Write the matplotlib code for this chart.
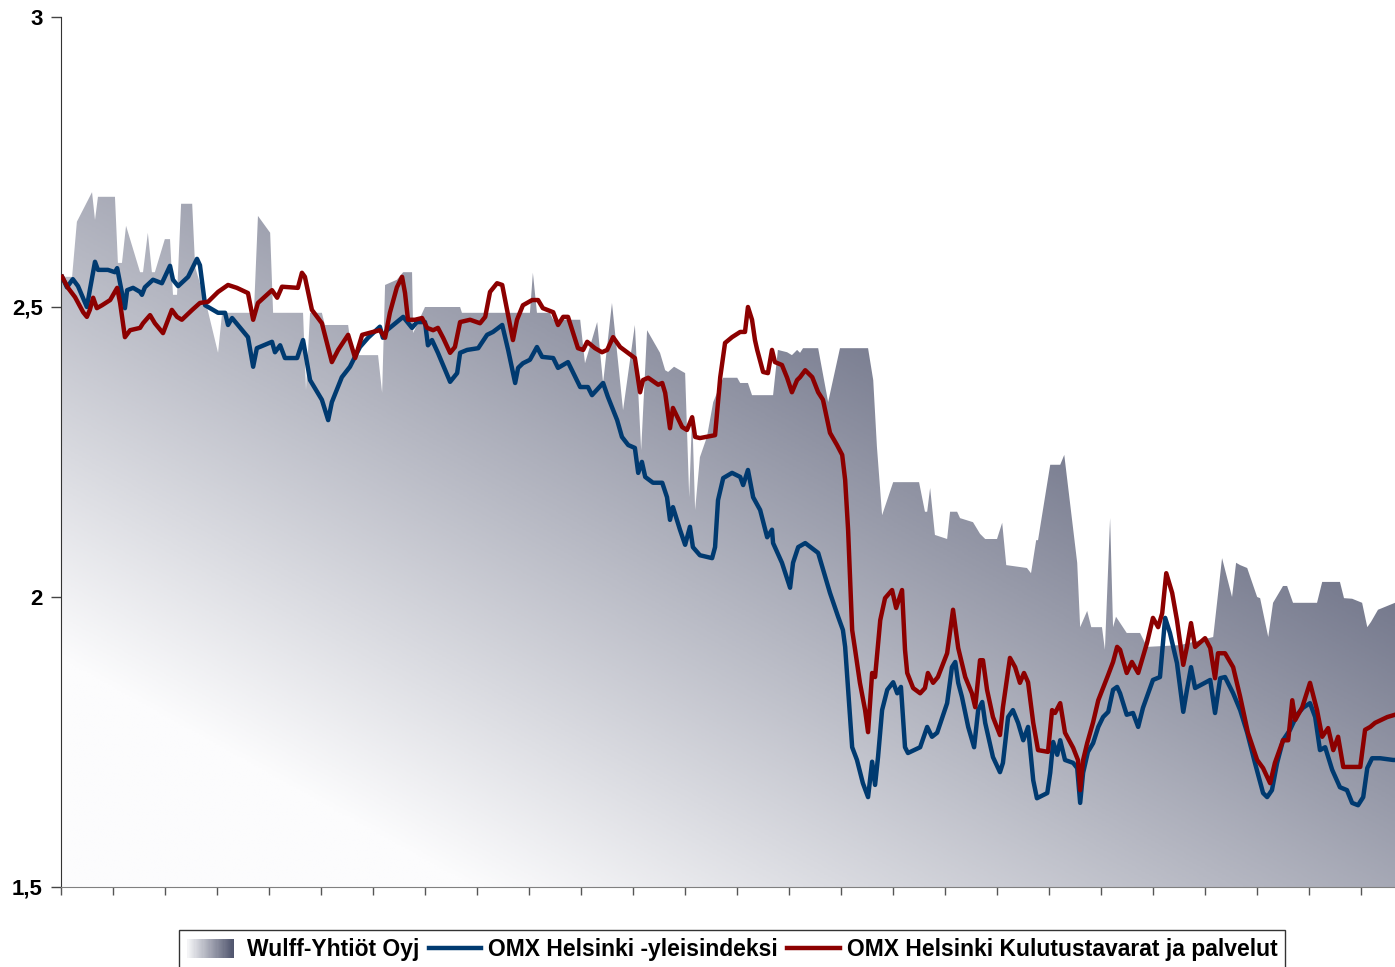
import numpy as np
import matplotlib
matplotlib.use('Agg')
import matplotlib.pyplot as plt
from matplotlib.colors import LinearSegmentedColormap
from matplotlib.legend_handler import HandlerBase
from matplotlib.patches import Rectangle, Patch
from matplotlib.lines import Line2D

plt.rcParams['font.family'] = ['Liberation Sans', 'DejaVu Sans']
plt.rcParams['font.weight'] = 'bold'

series_names = ['Wulff-Yhtiöt Oyj', 'OMX Helsinki -yleisindeksi',
                'OMX Helsinki Kulutustavarat ja palvelut']

# x = calendar day from start of period
wulff_days = [0, 3.0, 4.3, 8.4, 9.2, 10.0, 14.6, 15.4, 16.5, 17.6,
              21.4, 22.2, 23.5, 24.6, 25.4, 28.1, 29.5, 30.3, 31.4, 32.5,
              35.5, 36.3, 39.5, 42.5, 43.6, 52.2, 53.3, 56.6, 57.4, 65.5,
              66.3, 67.4, 70.6, 71.4, 77.7, 78.8, 85.8, 86.9, 87.7, 90.9,
              92.6, 95.0, 95.3, 98.5, 108.0, 108.5, 126.9, 127.7, 128.8, 132.3,
              133.2, 140.5, 141.8, 145.1, 146.7, 149.1, 152.1, 155.3, 157.0, 158.6,
              162.1, 163.5, 164.3, 165.9, 168.9, 170.0, 170.8, 171.6, 172.9, 174.8,
              176.5, 179.2, 183.0, 183.8, 185.9, 187.0, 192.7, 194.0, 196.5, 197.8,
              199.2, 200.0, 200.8, 204.9, 207.6, 210.8, 218.4, 219.8, 220.8, 222.2,
              225.2, 232.2, 233.8, 234.4, 235.2, 236.5, 239.8, 240.6, 242.5, 243.3,
              246.8, 248.7, 250.1, 253.3, 254.7, 255.8, 261.4, 262.5, 263.9, 264.4,
              267.7, 270.4, 271.5, 275.0, 275.8, 277.7, 278.8, 281.7, 282.5, 283.9,
              284.7, 285.5, 288.4, 292.0, 293.9, 302.8, 311.8, 314.2, 316.9, 318.0,
              319.1, 321.0, 323.7, 324.5, 326.7, 328.0, 330.7, 331.8, 333.4, 339.9,
              341.3, 346.1, 347.2, 349.4, 352.1, 353.5, 354.5, 356.4, 361.0]
wulff_vals = [2.552, 2.552, 2.647, 2.698, 2.650, 2.690, 2.690, 2.576, 2.576, 2.640,
              2.560, 2.560, 2.628, 2.560, 2.560, 2.617, 2.617, 2.521, 2.521, 2.678,
              2.678, 2.569, 2.500, 2.421, 2.490, 2.490, 2.657, 2.628, 2.490, 2.490,
              2.357, 2.490, 2.490, 2.469, 2.469, 2.417, 2.417, 2.352, 2.538, 2.547,
              2.560, 2.560, 2.455, 2.500, 2.500, 2.490, 2.490, 2.559, 2.490, 2.490,
              2.478, 2.478, 2.403, 2.474, 2.369, 2.507, 2.322, 2.469, 2.253, 2.460,
              2.421, 2.391, 2.388, 2.397, 2.386, 2.172, 2.317, 2.150, 2.241, 2.276,
              2.336, 2.378, 2.378, 2.369, 2.369, 2.348, 2.348, 2.426, 2.422, 2.417,
              2.426, 2.421, 2.429, 2.429, 2.336, 2.429, 2.429, 2.374, 2.259, 2.141,
              2.198, 2.198, 2.147, 2.147, 2.188, 2.107, 2.100, 2.147, 2.147, 2.136,
              2.129, 2.109, 2.100, 2.100, 2.128, 2.055, 2.050, 2.041, 2.098, 2.098,
              2.228, 2.228, 2.245, 2.059, 1.948, 1.976, 1.948, 1.948, 1.909, 2.136,
              1.948, 1.966, 1.938, 1.938, 1.914, 1.917, 1.931, 2.067, 2.000, 2.059,
              2.055, 2.050, 2.000, 1.998, 1.931, 1.990, 2.019, 2.019, 1.990, 1.990,
              2.026, 2.026, 1.998, 1.997, 1.990, 1.948, 1.957, 1.978, 1.990]

omx_days = [0.3, 1.6, 3.2, 4.6, 7.0, 7.8, 9.2, 10.0, 12.7, 14.6,
            15.2, 16.0, 17.3, 17.9, 19.5, 21.4, 21.9, 22.7, 24.9, 27.3,
            29.5, 30.3, 31.7, 34.4, 36.8, 37.6, 39.0, 42.5, 44.4, 45.2,
            46.3, 50.6, 52.0, 53.0, 57.1, 57.9, 59.3, 60.6, 63.9, 65.5,
            67.4, 70.6, 72.3, 73.3, 76.0, 78.2, 80.9, 83.1, 86.3, 87.1,
            88.2, 92.6, 95.0, 96.3, 98.5, 99.3, 100.4, 102.0, 105.3, 107.2,
            108.0, 109.9, 112.9, 115.3, 116.9, 119.4, 121.0, 122.9, 123.7, 125.0,
            126.9, 128.8, 130.2, 133.2, 134.5, 137.2, 140.5, 142.6, 143.7, 146.7,
            148.0, 150.5, 151.8, 153.5, 155.3, 156.2, 157.2, 158.1, 160.2, 162.7,
            164.0, 164.8, 165.6, 167.5, 168.9, 170.2, 171.0, 172.9, 176.2, 177.0,
            177.8, 179.2, 181.6, 183.8, 184.6, 185.9, 187.3, 189.2, 191.1, 192.4,
            192.7, 195.1, 197.3, 198.1, 199.5, 201.4, 204.9, 208.1, 210.3, 211.6,
            212.2, 213.0, 214.1, 215.4, 217.0, 218.4, 219.5, 220.3, 221.1, 222.2,
            223.6, 225.2, 226.3, 227.3, 228.4, 229.2, 232.5, 234.4, 235.7, 237.1,
            239.8, 241.1, 242.0, 242.8, 243.8, 245.5, 247.1, 248.2, 249.3, 250.1,
            252.2, 254.1, 254.9, 256.3, 257.6, 259.0, 260.4, 261.7, 263.1, 264.1,
            266.9, 267.7, 268.5, 269.6, 270.4, 271.7, 273.9, 275.0, 275.8, 276.6,
            277.9, 279.3, 280.7, 282.0, 283.4, 284.7, 285.8, 286.6, 288.4, 290.1,
            291.5, 292.8, 295.5, 297.4, 298.8, 300.1, 302.0, 303.7, 304.7, 305.8,
            306.9, 311.0, 312.3, 313.7, 315.0, 317.2, 319.1, 321.0, 323.1, 325.3,
            326.4, 327.7, 329.1, 330.7, 332.6, 334.5, 336.1, 338.0, 339.4, 340.7,
            342.1, 344.0, 346.1, 348.0, 349.4, 351.0, 352.4, 353.5, 354.8, 357.0,
            360.5, 361.0]
omx_vals = [2.552, 2.534, 2.548, 2.536, 2.500, 2.529, 2.578, 2.564, 2.564, 2.560,
            2.567, 2.541, 2.498, 2.529, 2.533, 2.526, 2.521, 2.534, 2.547, 2.541,
            2.571, 2.547, 2.536, 2.552, 2.583, 2.572, 2.503, 2.490, 2.490, 2.469,
            2.481, 2.448, 2.397, 2.429, 2.440, 2.422, 2.434, 2.412, 2.412, 2.443,
            2.374, 2.340, 2.305, 2.336, 2.379, 2.397, 2.431, 2.447, 2.466, 2.447,
            2.460, 2.483, 2.464, 2.474, 2.474, 2.434, 2.443, 2.421, 2.371, 2.386,
            2.421, 2.426, 2.429, 2.452, 2.457, 2.469, 2.426, 2.369, 2.395, 2.403,
            2.409, 2.431, 2.414, 2.412, 2.395, 2.405, 2.362, 2.362, 2.348, 2.369,
            2.345, 2.305, 2.276, 2.262, 2.257, 2.214, 2.233, 2.207, 2.197, 2.197,
            2.172, 2.133, 2.155, 2.116, 2.090, 2.121, 2.086, 2.072, 2.067, 2.086,
            2.167, 2.205, 2.214, 2.207, 2.193, 2.219, 2.172, 2.150, 2.103, 2.116,
            2.093, 2.059, 2.016, 2.059, 2.086, 2.093, 2.076, 2.007, 1.966, 1.943,
            1.914, 1.840, 1.741, 1.719, 1.679, 1.655, 1.716, 1.676, 1.724, 1.805,
            1.840, 1.853, 1.834, 1.845, 1.741, 1.731, 1.741, 1.776, 1.759, 1.766,
            1.817, 1.879, 1.888, 1.852, 1.828, 1.776, 1.741, 1.805, 1.819, 1.783,
            1.724, 1.698, 1.714, 1.793, 1.805, 1.783, 1.753, 1.776, 1.684, 1.653,
            1.662, 1.697, 1.750, 1.728, 1.753, 1.719, 1.714, 1.705, 1.645, 1.697,
            1.733, 1.748, 1.776, 1.793, 1.802, 1.840, 1.845, 1.834, 1.797, 1.800,
            1.776, 1.809, 1.857, 1.862, 1.964, 1.938, 1.886, 1.802, 1.840, 1.879,
            1.843, 1.857, 1.800, 1.860, 1.862, 1.834, 1.805, 1.766, 1.714, 1.662,
            1.655, 1.667, 1.714, 1.753, 1.771, 1.797, 1.809, 1.817, 1.793, 1.736,
            1.741, 1.702, 1.672, 1.667, 1.645, 1.641, 1.655, 1.705, 1.722, 1.722,
            1.719, 1.719]

kulu_days = [0.3, 1.9, 3.8, 6.0, 7.0, 7.8, 8.7, 9.7, 11.1, 13.3,
             15.2, 16.0, 17.3, 18.7, 21.4, 22.2, 24.1, 25.4, 27.6, 30.0,
             31.4, 32.7, 35.5, 37.6, 39.8, 42.5, 45.2, 47.6, 50.6, 52.0,
             53.3, 57.1, 58.5, 59.8, 64.1, 65.2, 66.0, 67.9, 70.6, 73.3,
             75.0, 77.7, 79.6, 81.5, 84.4, 86.3, 87.7, 89.0, 90.9, 92.3,
             93.1, 93.9, 95.8, 97.7, 99.1, 100.7, 102.0, 103.4, 105.3, 106.6,
             108.0, 110.7, 113.4, 114.8, 116.1, 118.0, 119.4, 120.7, 122.3, 123.4,
             125.0, 127.5, 129.1, 130.4, 133.2, 134.5, 135.9, 137.2, 139.9, 141.3,
             142.4, 144.5, 146.4, 147.8, 149.4, 151.3, 153.2, 155.3, 156.7, 157.5,
             158.9, 161.6, 162.7, 163.5, 164.8, 165.6, 168.1, 169.4, 170.8, 171.6,
             172.9, 177.0, 178.4, 179.7, 181.6, 183.8, 185.1, 185.9, 187.0, 187.8,
             188.4, 190.0, 191.3, 192.4, 193.2, 195.1, 196.5, 197.8, 199.2, 200.0,
             201.4, 203.3, 204.9, 206.2, 208.1, 210.0, 211.4, 212.2, 213.0, 214.1,
             214.9, 216.2, 217.6, 218.4, 219.5, 220.3, 221.7, 223.0, 224.9, 226.0,
             227.6, 228.4, 229.0, 230.6, 232.5, 233.8, 234.6, 236.0, 237.3, 239.8,
             241.4, 242.8, 244.7, 246.5, 247.4, 248.7, 249.5, 250.6, 252.2, 254.1,
             254.9, 256.8, 258.2, 259.5, 260.6, 261.7, 263.1, 264.4, 267.1, 268.2,
             269.0, 270.4, 271.7, 273.9, 275.2, 275.8, 276.6, 277.7, 279.3, 280.7,
             282.0, 283.4, 284.7, 285.8, 286.6, 288.4, 289.8, 291.5, 293.9, 295.5,
             296.9, 298.0, 299.1, 300.7, 302.0, 303.7, 304.7, 305.8, 306.9, 309.6,
             311.0, 312.3, 313.1, 315.0, 317.2, 319.1, 321.2, 323.7, 325.3, 327.2,
             328.5, 330.7, 332.1, 333.2, 334.0, 335.9, 338.0, 339.9, 341.3, 342.9,
             344.3, 345.6, 347.0, 351.6, 352.9, 354.3, 355.6, 358.9, 361.0]
kulu_vals = [2.552, 2.533, 2.517, 2.491, 2.483, 2.495, 2.516, 2.498, 2.503, 2.512,
             2.533, 2.507, 2.448, 2.460, 2.464, 2.472, 2.486, 2.472, 2.455, 2.495,
             2.483, 2.478, 2.495, 2.507, 2.509, 2.526, 2.538, 2.533, 2.524, 2.478,
             2.507, 2.529, 2.516, 2.535, 2.533, 2.559, 2.552, 2.495, 2.472, 2.405,
             2.426, 2.452, 2.412, 2.452, 2.457, 2.460, 2.447, 2.490, 2.534, 2.552,
             2.524, 2.478, 2.478, 2.481, 2.464, 2.460, 2.464, 2.447, 2.421, 2.431,
             2.474, 2.478, 2.472, 2.483, 2.526, 2.541, 2.538, 2.495, 2.443, 2.478,
             2.503, 2.512, 2.512, 2.498, 2.491, 2.469, 2.483, 2.483, 2.429, 2.426,
             2.440, 2.429, 2.422, 2.426, 2.448, 2.431, 2.422, 2.412, 2.353, 2.374,
             2.378, 2.366, 2.369, 2.352, 2.291, 2.326, 2.293, 2.288, 2.310, 2.276,
             2.274, 2.279, 2.379, 2.438, 2.448, 2.457, 2.457, 2.500, 2.478, 2.443,
             2.426, 2.388, 2.386, 2.426, 2.405, 2.400, 2.378, 2.353, 2.374, 2.379,
             2.391, 2.379, 2.353, 2.340, 2.283, 2.262, 2.245, 2.202, 2.116, 1.943,
             1.909, 1.852, 1.805, 1.767, 1.869, 1.862, 1.960, 1.998, 2.012, 1.981,
             2.012, 1.909, 1.869, 1.843, 1.834, 1.843, 1.869, 1.852, 1.862, 1.903,
             1.978, 1.912, 1.862, 1.834, 1.810, 1.891, 1.891, 1.840, 1.793, 1.762,
             1.810, 1.895, 1.879, 1.852, 1.869, 1.853, 1.783, 1.736, 1.733, 1.805,
             1.800, 1.817, 1.766, 1.740, 1.719, 1.667, 1.719, 1.748, 1.784, 1.822,
             1.843, 1.866, 1.888, 1.914, 1.909, 1.869, 1.888, 1.869, 1.921, 1.964,
             1.948, 1.972, 2.041, 2.007, 1.960, 1.883, 1.914, 1.955, 1.914, 1.929,
             1.912, 1.860, 1.903, 1.903, 1.879, 1.828, 1.766, 1.719, 1.705, 1.679,
             1.714, 1.753, 1.753, 1.822, 1.788, 1.810, 1.852, 1.805, 1.759, 1.774,
             1.736, 1.759, 1.707, 1.707, 1.771, 1.776, 1.783, 1.793, 1.797]

y_ticks = [1.5, 2.0, 2.5, 3.0]
y_tick_labels = ['1,5', '2', '2,5', '3']

blue = '#003a70'
red = '#8c0000'
grad_cmap = LinearSegmentedColormap.from_list('wulff', ['#fcfcfd', '#50556e'])


class GradientHandler(HandlerBase):
    def create_artists(self, legend, orig_handle, xdescent, ydescent,
                       width, height, fontsize, trans):
        n = 40
        w = width * 0.88
        arts = []
        for i in range(n):
            r = Rectangle((-xdescent + i * w / n, -ydescent - 1), w / n * 1.1, height + 2,
                          facecolor=grad_cmap(0.05 + 0.95 * i / (n - 1)),
                          edgecolor='none', transform=trans)
            arts.append(r)
        return arts


fig = plt.figure(figsize=(13.95, 9.67), dpi=100)
ax = fig.add_axes([61 / 1395, 80 / 967, 1334 / 1395, 870 / 967])

# Wulff area with diagonal gradient
poly = ax.fill_between(wulff_days, wulff_vals, 1.5, facecolor='none', edgecolor='none')
gx, gy = np.meshgrid(np.linspace(0, 1, 700), np.linspace(0, 1, 450))
shade = np.clip(0.72 * gx + 0.85 * gy - 0.22, 0, 1)
im = ax.imshow(shade, cmap=grad_cmap, vmin=0, vmax=1, extent=[0, 361, 1.5, 3.0],
               origin='lower', aspect='auto', interpolation='bilinear', zorder=1)
im.set_clip_path(poly.get_paths()[0], transform=ax.transData)

ax.plot(omx_days, omx_vals, color=blue, lw=3.2, zorder=3, solid_joinstyle='round')
ax.plot(kulu_days, kulu_vals, color=red, lw=3.2, zorder=4, solid_joinstyle='round')

ax.set_xlim(0, 361)
ax.set_ylim(1.5, 3.0)
ax.set_xticks(np.arange(0, 361, 14.07))
ax.set_yticks(y_ticks)
ax.set_yticklabels(y_tick_labels)
ax.tick_params(axis='y', length=7, width=1, color='#444444', labelsize=16, pad=6)
ax.tick_params(axis='x', length=6, width=1, color='#555555', labelbottom=False)

ax.spines['top'].set_visible(False)
ax.spines['right'].set_visible(False)
ax.spines['left'].set_color('#333333')
ax.spines['bottom'].set_color('#808080')

handles = [Patch(), Line2D([], [], color=blue, lw=3.2), Line2D([], [], color=red, lw=3.2)]
leg = fig.legend(handles, series_names, loc='upper center', bbox_to_anchor=(0.525, 0.038),
                 ncol=3, frameon=True, fancybox=False, edgecolor='black',
                 handlelength=2.3, handletextpad=0.3, columnspacing=0.4,
                 borderpad=0.35, borderaxespad=0,
                 handler_map={Patch: GradientHandler()},
                 prop=dict(family='Liberation Sans', weight='bold', size=16.5))
leg.get_frame().set_linewidth(1.0)

fig.savefig('out.png', dpi=100)
